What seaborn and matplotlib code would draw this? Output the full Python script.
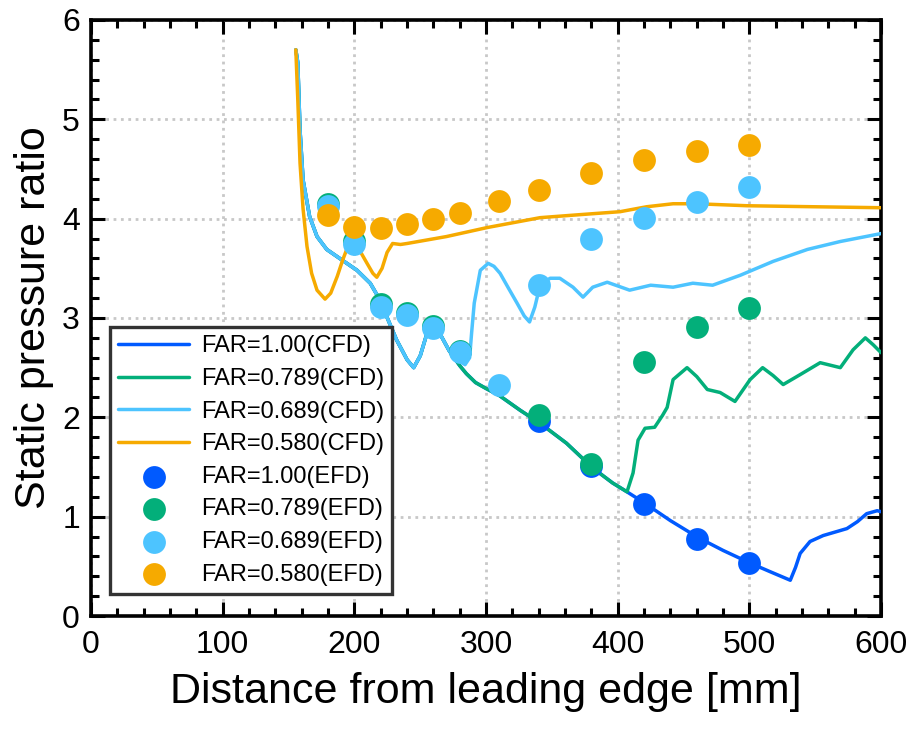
import matplotlib
matplotlib.use("Agg")
import matplotlib.pyplot as plt
import seaborn as sns
from matplotlib.ticker import MultipleLocator

# CFD curves
far100_cfd_x = [155.5, 157, 158.7, 161, 166, 171.6, 179, 191, 202, 212, 219.5, 225, 232, 240, 245, 250, 255, 260, 265, 272,
                280, 285, 292, 300, 310, 326, 341, 361, 381, 396, 407,
                420, 440, 461, 480, 501, 515, 531, 535, 538.5, 546, 556, 574, 582, 589, 597, 600]
far100_cfd_y = [5.70, 5.57, 4.89, 4.39, 4.02, 3.82, 3.69, 3.58, 3.48, 3.35, 3.18, 3.00, 2.78, 2.58, 2.50, 2.62, 2.84, 2.90, 2.84, 2.67,
                2.52, 2.44, 2.35, 2.29, 2.22, 2.07, 1.94, 1.74, 1.49, 1.34, 1.25,
                1.14, 0.96, 0.79, 0.66, 0.53, 0.45, 0.36, 0.49, 0.63, 0.75, 0.81, 0.88, 0.95, 1.03, 1.06, 1.05]

far789_cfd_x = [155.5, 157, 158.7, 161, 166, 171.6, 179, 191, 202, 212, 219.5, 225, 232, 240, 245, 250, 255, 260, 265, 272,
                280, 285, 292, 300, 310, 326, 341, 361, 381, 396, 407,
                411.6, 415.4, 420.7, 428, 434, 437.5, 442, 452.6, 460, 468, 477.7, 489, 500.5, 510, 518, 525.6,
                538.5, 553.7, 569, 578.7, 588, 594, 600]
far789_cfd_y = [5.70, 5.57, 4.89, 4.39, 4.02, 3.82, 3.69, 3.58, 3.48, 3.35, 3.18, 3.00, 2.78, 2.58, 2.50, 2.62, 2.84, 2.90, 2.84, 2.67,
                2.52, 2.44, 2.35, 2.29, 2.22, 2.07, 1.94, 1.74, 1.49, 1.34, 1.25,
                1.44, 1.77, 1.89, 1.90, 2.02, 2.10, 2.38, 2.50, 2.41, 2.28, 2.25, 2.16, 2.38, 2.50, 2.42, 2.33,
                2.43, 2.55, 2.50, 2.68, 2.80, 2.73, 2.65]

far689_cfd_x = [155.5, 157, 158.7, 161, 166, 171.6, 179, 191, 202, 212, 219.5, 225, 232, 240, 245, 250, 255, 260, 265, 272,
                278, 284, 287.5, 289, 291, 295.6, 301.6, 306, 310.6, 317, 323.5, 329, 333, 337, 341, 348.6, 356, 366,
                373.6, 381, 392, 409, 425, 442, 457, 472, 493, 518, 544, 569, 600]
far689_cfd_y = [5.70, 5.57, 4.89, 4.39, 4.02, 3.82, 3.69, 3.58, 3.48, 3.35, 3.18, 3.00, 2.78, 2.58, 2.50, 2.62, 2.84, 2.90, 2.84, 2.67,
                2.58, 2.53, 2.60, 2.85, 3.15, 3.48, 3.55, 3.52, 3.45, 3.30, 3.15, 3.02, 2.96, 3.11, 3.33, 3.40, 3.40, 3.31,
                3.21, 3.31, 3.36, 3.28, 3.33, 3.31, 3.35, 3.33, 3.43, 3.57, 3.69, 3.77, 3.85]

far580_cfd_x = [155.5, 157, 158.7, 161, 164, 167.5, 171.6, 177.7, 182, 187, 191, 195, 199, 204, 209.6, 214, 217, 221,
                224.8, 229, 235, 240, 270, 300.7, 341, 371, 401.7, 422, 442, 460, 498, 548, 600]
far580_cfd_y = [5.70, 5.20, 4.56, 4.10, 3.72, 3.45, 3.28, 3.19, 3.25, 3.42, 3.58, 3.72, 3.77, 3.68, 3.55, 3.45, 3.41, 3.50,
                3.66, 3.75, 3.74, 3.75, 3.82, 3.91, 4.01, 4.04, 4.07, 4.12, 4.15, 4.15, 4.13, 4.12, 4.11]

# EFD measurements
far100_efd_x = [340, 380, 420, 460, 500]
far100_efd_y = [1.96, 1.51, 1.13, 0.78, 0.53]

far789_efd_x = [180, 200, 220, 240, 260, 280, 340, 380, 420, 460, 500]
far789_efd_y = [4.15, 3.77, 3.14, 3.05, 2.92, 2.67, 2.02, 1.53, 2.56, 2.91, 3.10]

far689_efd_x = [180, 200, 220, 240, 260, 280, 310, 340, 380, 420, 460, 500]
far689_efd_y = [4.13, 3.74, 3.11, 3.03, 2.90, 2.66, 2.33, 3.33, 3.80, 4.01, 4.17, 4.32]

far580_efd_x = [180, 200, 220, 240, 260, 280, 310, 340, 380, 420, 460, 500]
far580_efd_y = [4.04, 3.92, 3.91, 3.95, 4.00, 4.06, 4.18, 4.29, 4.46, 4.59, 4.68, 4.74]

far_names = ["1.00", "0.789", "0.689", "0.580"]
colors = ["#005AFF", "#03AF7A", "#4DC4FF", "#F6AA00"]

sns.set_style("ticks")
plt.rcParams['font.family'] = ['Liberation Sans', 'DejaVu Sans']
plt.rcParams['text.color'] = 'black'
plt.rcParams['axes.labelcolor'] = 'black'

fig = plt.figure(figsize=(9.15, 7.29), dpi=100)
ax = fig.add_axes([0.0995, 0.155, 0.8635, 0.8176])

cfd = [(far100_cfd_x, far100_cfd_y), (far789_cfd_x, far789_cfd_y),
       (far689_cfd_x, far689_cfd_y), (far580_cfd_x, far580_cfd_y)]
efd = [(far100_efd_x, far100_efd_y), (far789_efd_x, far789_efd_y),
       (far689_efd_x, far689_efd_y), (far580_efd_x, far580_efd_y)]

for (xs, ys), name, c in zip(cfd, far_names, colors):
    sns.lineplot(x=xs, y=ys, ax=ax, color=c, linewidth=2.5, sort=False,
                 estimator=None, label=f"FAR={name}(CFD)", zorder=3)

for (xs, ys), name, c in zip(efd, far_names, colors):
    sns.scatterplot(x=xs, y=ys, ax=ax, color=c, s=270, linewidth=0,
                    label=f"FAR={name}(EFD)", zorder=4)

ax.set_xlim(0, 600)
ax.set_ylim(0, 6)
ax.xaxis.set_major_locator(MultipleLocator(100))
ax.xaxis.set_minor_locator(MultipleLocator(20))
ax.yaxis.set_major_locator(MultipleLocator(1))
ax.yaxis.set_minor_locator(MultipleLocator(0.2))

ax.grid(True, which='major', linestyle=':', color='#c8c8c8', linewidth=2)
ax.set_axisbelow(True)

for sp in ax.spines.values():
    sp.set_linewidth(2.6)
    sp.set_color('black')
    sp.set_visible(True)

ax.tick_params(which='both', direction='in', top=True, right=True, colors='black')
ax.tick_params(which='major', length=10, width=2.2, labelsize=23)
ax.tick_params(axis='x', which='major', pad=10)
ax.tick_params(axis='y', which='major', pad=8)
ax.tick_params(which='minor', length=5.5, width=2.2)

ax.set_xlabel("Distance from leading edge [mm]", fontsize=31, labelpad=9)
ax.set_ylabel("Static pressure ratio", fontsize=31, labelpad=6)

leg = ax.legend(loc='lower left', bbox_to_anchor=(0.024, 0.037), borderaxespad=0,
                fontsize=17, frameon=True, fancybox=False, framealpha=1,
                edgecolor='#333333', handlelength=3.0, labelspacing=0.45,
                handletextpad=0.5, borderpad=0.35)
leg.get_frame().set_linewidth(2.4)

fig.savefig("out.png", dpi=100)
